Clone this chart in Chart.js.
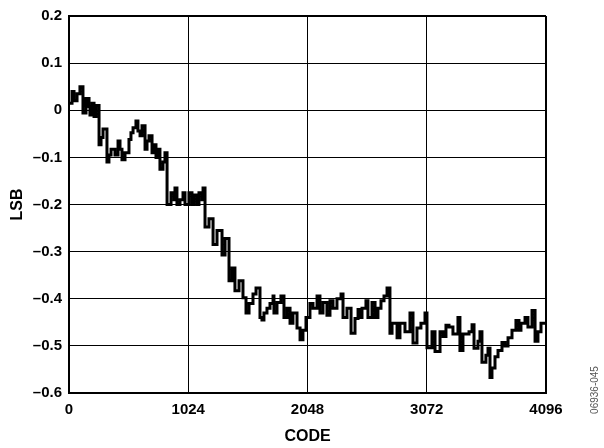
<!DOCTYPE html>
<html>
<head>
<meta charset="utf-8">
<script src="https://cdn.jsdelivr.net/npm/chart.js@4/dist/chart.umd.min.js"></script>
<style>
  html, body { margin: 0; padding: 0; background: #fff; }
  #wrap { position: relative; width: 604px; height: 448px; }
</style>
</head>
<body>
<div id="wrap"><canvas id="c" width="604" height="448"></canvas></div>
<script>
// Input code (x) at which each step starts
const codes = [
  0, 26, 43, 69, 94, 120, 146, 172, 180, 198, 215, 232, 258, 275, 292, 326, 343, 361, 395, 421,
  438, 455, 481, 515, 532, 550, 575, 592, 610, 627, 653, 670, 687, 713, 730, 747, 764, 781, 807, 824,
  842, 859, 876, 902, 910, 927, 953, 979, 996, 1030, 1056, 1073, 1099, 1116, 1142, 1151, 1168, 1202, 1237, 1271,
  1314, 1340, 1374, 1400, 1425, 1460, 1494, 1520, 1546, 1580, 1606, 1640, 1657, 1674, 1700, 1726, 1752, 1760, 1786, 1820,
  1846, 1872, 1898, 1923, 1958, 1984, 2009, 2035, 2069, 2095, 2130, 2155, 2181, 2215, 2241, 2267, 2301, 2336, 2353, 2387,
  2422, 2456, 2482, 2499, 2516, 2550, 2567, 2602, 2628, 2653, 2679, 2705, 2731, 2756, 2774, 2817, 2842, 2885, 2928, 2954,
  2988, 3022, 3057, 3074, 3117, 3143, 3186, 3212, 3237, 3263, 3297, 3340, 3357, 3383, 3435, 3461, 3478, 3512, 3529, 3546,
  3580, 3598, 3615, 3632, 3658, 3684, 3718, 3744, 3770, 3804, 3838, 3864, 3881, 3916, 3941, 3976, 4002, 4027, 4053, 4096
];
// Error in LSB for each step
const lsb = [
  0.015, 0.04, 0.02, 0.035, 0.05, -0.006, 0.025, 0.008, -0.01, 0.015, -0.013, 0.01, -0.073, -0.058, -0.04, -0.11, -0.095, -0.083, -0.095, -0.065,
  -0.083, -0.105, -0.09, -0.062, -0.048, -0.037, -0.023, -0.044, -0.054, -0.033, -0.083, -0.065, -0.054, -0.09, -0.073, -0.1, -0.083, -0.125, -0.11, -0.09,
  -0.2, -0.2, -0.175, -0.19, -0.165, -0.2, -0.19, -0.175, -0.2, -0.175, -0.2, -0.18, -0.2, -0.175, -0.19, -0.165, -0.248, -0.23, -0.285, -0.255,
  -0.307, -0.272, -0.362, -0.335, -0.383, -0.362, -0.398, -0.43, -0.41, -0.39, -0.377, -0.44, -0.445, -0.43, -0.42, -0.41, -0.394, -0.43, -0.408, -0.394,
  -0.44, -0.42, -0.452, -0.43, -0.462, -0.487, -0.467, -0.44, -0.41, -0.42, -0.394, -0.43, -0.408, -0.435, -0.404, -0.42, -0.4, -0.39, -0.44, -0.42,
  -0.473, -0.442, -0.423, -0.44, -0.42, -0.404, -0.44, -0.408, -0.44, -0.42, -0.404, -0.394, -0.377, -0.473, -0.452, -0.483, -0.452, -0.47, -0.43, -0.494,
  -0.462, -0.452, -0.43, -0.504, -0.47, -0.512, -0.47, -0.48, -0.456, -0.46, -0.475, -0.44, -0.51, -0.475, -0.47, -0.455, -0.505, -0.49, -0.47, -0.535,
  -0.52, -0.505, -0.567, -0.547, -0.523, -0.51, -0.493, -0.5, -0.483, -0.467, -0.446, -0.467, -0.452, -0.44, -0.46, -0.425, -0.49, -0.47, -0.452, -0.452
];
const xTicks = [0, 1024, 2048, 3072, 4096];
const yTicks = [0.2, 0.1, 0, -0.1, -0.2, -0.3, -0.4, -0.5, -0.6];
const xTitle = 'CODE';
const yTitle = 'LSB';
const figureId = '06936-045';

const points = codes.map((c, i) => ({ x: c, y: lsb[i] }));
const FONT = "'Liberation Sans', Arial, sans-serif";

const sideText = {
  id: 'sideText',
  afterDraw(chart) {
    const ctx = chart.ctx;
    ctx.save();
    ctx.translate(595, 390);
    ctx.rotate(-Math.PI / 2);
    ctx.font = "10px " + FONT;
    ctx.fillStyle = '#555';
    ctx.textAlign = 'center';
    ctx.textBaseline = 'middle';
    ctx.fillText(figureId, 0, 0);
    ctx.restore();
  }
};

function fmtY(v) {
  const r = Math.round(v * 10) / 10;
  if (r === 0) return '0';
  return (r < 0 ? '\u2013' : '') + Math.abs(r).toFixed(1);
}

new Chart(document.getElementById('c'), {
  type: 'line',
  data: {
    datasets: [{
      data: points,
      stepped: true,
      borderColor: '#000',
      borderWidth: 3,
      pointRadius: 0,
      fill: false,
      tension: 0
    }]
  },
  options: {
    responsive: false,
    animation: false,
    events: [],
    layout: { padding: { left: 0, top: 11, right: 58, bottom: 0 } },
    plugins: { legend: { display: false }, tooltip: { enabled: false } },
    scales: {
      x: {
        type: 'linear',
        min: 0, max: 4096,
        afterBuildTicks(scale) { scale.ticks = xTicks.map(v => ({ value: v })); },
        afterFit(scale) { scale.height = 55; },
        ticks: {
          color: '#000',
          font: { family: FONT, size: 15, weight: 'bold' },
          padding: 8,
          maxRotation: 0,
          autoSkip: false,
          callback: v => String(v)
        },
        grid: {
          color: '#000',
          lineWidth: ctx => (ctx.tick && ctx.tick.value === 4096) ? 2 : 1,
          drawTicks: false
        },
        border: { color: '#000', width: 2 },
        title: {
          display: true, text: xTitle, color: '#000',
          font: { family: FONT, size: 16, weight: 'bold' },
          padding: { top: 0, bottom: 2 }
        }
      },
      y: {
        type: 'linear',
        min: -0.6, max: 0.2,
        afterBuildTicks(scale) { scale.ticks = yTicks.map(v => ({ value: v })); },
        afterFit(scale) { scale.width = 69; },
        ticks: {
          color: '#000',
          font: { family: FONT, size: 15, weight: 'bold' },
          padding: 7,
          autoSkip: false,
          callback: v => fmtY(v)
        },
        grid: {
          color: '#000',
          lineWidth: ctx => (ctx.tick && Math.abs(ctx.tick.value - 0.2) < 1e-9) ? 2 : 1,
          drawTicks: false
        },
        border: { color: '#000', width: 2 },
        title: {
          display: true, text: yTitle, color: '#000',
          font: { family: FONT, size: 16, weight: 'bold' },
          padding: { top: 8, bottom: 0 }
        }
      }
    }
  },
  plugins: [sideText]
});
</script>
</body>
</html>
